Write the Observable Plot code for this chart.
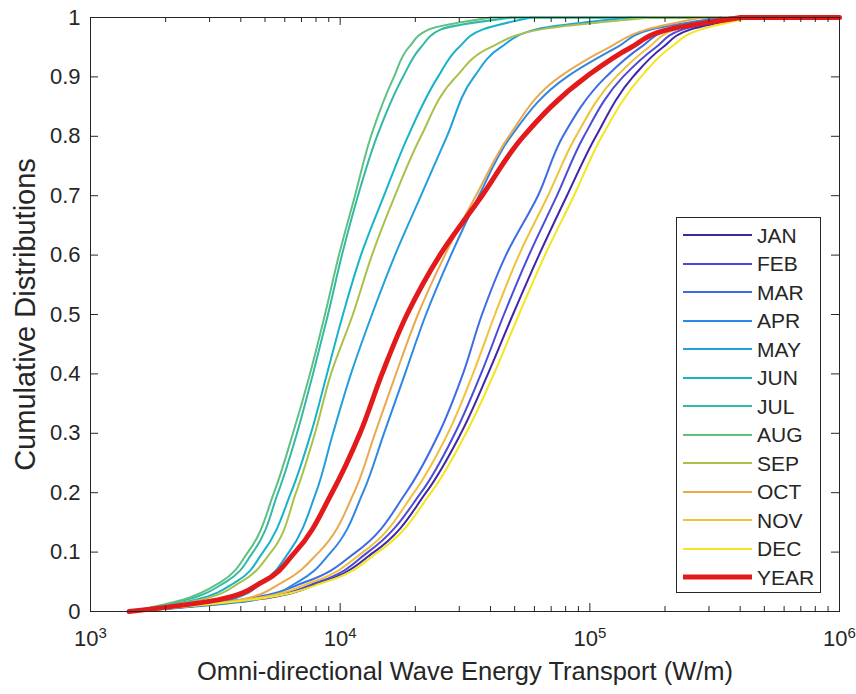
<!DOCTYPE html>
<html><head><meta charset="utf-8">
<script src="https://cdn.jsdelivr.net/npm/d3@7"></script>
<script src="https://cdn.jsdelivr.net/npm/@observablehq/plot@0.6"></script>
<style>
body{margin:0;background:#fff;}
#wrap{position:relative;width:856px;height:694px;font-family:"Liberation Sans",Arial,sans-serif;}
#legend{position:absolute;left:676px;top:217px;width:145px;height:376px;border:1px solid #262626;background:#fff;box-sizing:border-box;padding-top:3px}
.row{display:flex;align-items:center;height:28.5px}
.row svg{margin-left:6px;display:block}
.row span{margin-left:5px;font-size:21px;color:#262626;line-height:1}
</style></head><body>
<div id="wrap"><div id="legend"></div></div>
<script>
// cumulative probability levels
const P = [0, 0.02, 0.05, 0.1, 0.2, 0.3, 0.4, 0.5, 0.6, 0.7, 0.8, 0.9, 0.95, 0.98, 1];
// energy transport (W/m) at each level
const JAN = [1450, 4601, 8535, 13655, 22060, 30460, 39079, 49204, 62545, 80946, 105790, 148800, 196200, 254000, 421900];
const FEB = [1450, 4394, 8224, 12920, 21068, 28820, 36638, 45290, 57040, 73820, 94700, 135700, 184000, 236000, 402900];
const MAR = [1450, 4006, 7295, 11569, 18345, 24870, 31027, 36980, 46132, 61970, 78015, 116000, 160200, 211200, 367500];
const APR = [1450, 4601, 6776, 9187, 12340, 14980, 18180, 22060, 27778, 35964, 48306, 80946, 128700, 177000, 335000];
const MAY = [1450, 3653, 4908, 6237, 8000, 9360, 11046, 13410, 16580, 21070, 26770, 34350, 44060, 60840, 146100];
const JUN = [1450, 2646, 3825, 4908, 6353, 7638, 8855, 10261, 12115, 14980, 18690, 24650, 29910, 37320, 58100];
const JUL = [1450, 2434, 3488, 4475, 5637, 6714, 7781, 8937, 10167, 11785, 14041, 17846, 21068, 25328, 48306];
const AUG = [1450, 2345, 3332, 4274, 5433, 6471, 7568, 8693, 9890, 11463, 13284, 16420, 18850, 22680, 40173];
const SEP = [1450, 2770, 4006, 5284, 6653, 7926, 9187, 11240, 13410, 16580, 21070, 29090, 40170, 63710, 175700];
const OCT = [1450, 4006, 5906, 8224, 11360, 13790, 16730, 20490, 26270, 34983, 47400, 75700, 120000, 169500, 281000];
const NOV = [1450, 4195, 7781, 12340, 19747, 27020, 34029, 41680, 51999, 67960, 87995, 127200, 172500, 221200, 384800];
const DEC = [1450, 4475, 8773, 14170, 23100, 31900, 41297, 51999, 66112, 86390, 111800, 160200, 211200, 278600, 441800];
const YEAR = [1426, 3273, 4900, 6600, 9272, 12005, 14710, 18520, 25090, 36980, 54200, 96500, 146500, 207400, 402900];
const X_END = 1e6;

const MONTHS = ["JAN","FEB","MAR","APR","MAY","JUN","JUL","AUG","SEP","OCT","NOV","DEC"];
const SERIES = {JAN, FEB, MAR, APR, MAY, JUN, JUL, AUG, SEP, OCT, NOV, DEC};
const COLORS = ["#3e26a8","#4a4bd8","#3d6be6","#2e87e3","#22a0dc","#17b3c8","#33b9a5","#5fc181","#a9c14a","#eaa94f","#f1c13a","#f4e61e"];
const YEAR_COLOR = "#e31a1c";

const X_TICKS = [1e3, 1e4, 1e5, 1e6];
const X_MINOR = [2,3,4,5,6,7,8,9].flatMap(m => [1e3,1e4,1e5].map(d => m*d));
const Y_TICKS = d3.range(0, 11).map(i => i / 10);

const rows = MONTHS.flatMap(name => SERIES[name].map((x, i) => ({name, x, p: P[i]})));
const yearRows = YEAR.map((x, i) => ({name: "YEAR", x, p: P[i]}));
const tails = [...MONTHS.map(n => ({name: n, x: SERIES[n][SERIES[n].length-1]})), {name: "YEAR", x: YEAR[YEAR.length-1]}]
  .flatMap(d => [{name: d.name, x: d.x, p: 1}, {name: d.name, x: X_END, p: 1}]);

const W = 856, H = 694, ML = 90, MR = 17, MT = 17, MB = 83;
const FW = W - ML - MR, FH = H - MT - MB;
const ink = "#262626";

const chart = Plot.plot({
  width: W, height: H,
  marginLeft: ML, marginRight: MR, marginTop: MT, marginBottom: MB,
  style: {fontFamily: "'Liberation Sans', Arial, sans-serif", fontSize: "22px", color: ink, background: "#fff"},
  x: {type: "log", domain: [1e3, 1e6]},
  y: {domain: [0, 1]},
  color: {domain: MONTHS, range: COLORS},
  marks: [
    Plot.line(tails.filter(d => d.name !== "YEAR"), {x: "x", y: "p", z: "name", stroke: "name", strokeWidth: 2}),
    Plot.line(rows, {x: "x", y: "p", z: "name", stroke: "name", strokeWidth: 2, curve: "monotone-y"}),
    Plot.line(tails.filter(d => d.name === "YEAR"), {x: "x", y: "p", stroke: YEAR_COLOR, strokeWidth: 5}),
    Plot.line(yearRows, {x: "x", y: "p", stroke: YEAR_COLOR, strokeWidth: 5, curve: "monotone-y"}),
    Plot.frame({stroke: ink, strokeWidth: 1}),
    Plot.ruleX(X_MINOR, {x: d => d, stroke: ink, insetTop: FH - 5}),
    Plot.ruleX(X_MINOR, {x: d => d, stroke: ink, insetBottom: FH - 5}),
    Plot.ruleX(X_TICKS, {x: d => d, stroke: ink, insetTop: FH - 8}),
    Plot.ruleX(X_TICKS, {x: d => d, stroke: ink, insetBottom: FH - 8}),
    Plot.ruleY(Y_TICKS, {y: d => d, stroke: ink, insetRight: FW - 8}),
    Plot.ruleY(Y_TICKS, {y: d => d, stroke: ink, insetLeft: FW - 8}),
    Plot.axisX({ticks: X_TICKS, tickSize: 0, tickPadding: 19, tickFormat: d => "10^" + Math.round(Math.log10(d)), label: null}),
    Plot.axisY({ticks: Y_TICKS, tickSize: 0, tickPadding: 10, tickFormat: d => String(+d.toFixed(1)), label: null}),
    Plot.text(["Omni-directional Wave Energy Transport (W/m)"], {frameAnchor: "bottom", dy: 68, fontSize: 25.5, text: d => d, fill: ink}),
    Plot.text(["Cumulative Distributions"], {frameAnchor: "left", textAnchor: "middle", dx: -65, rotate: -90, fontSize: 29, text: d => d, fill: ink})
  ]
});

// superscript exponents on the x tick labels
d3.select(chart).selectAll('g[aria-label="x-axis tick label"] text').each(function() {
  const t = d3.select(this);
  const [base, exp] = t.text().split("^");
  t.text(null);
  t.append("tspan").text(base);
  t.append("tspan").attr("dy", "-0.55em").attr("font-size", "15px").text(exp);
});

const wrap = document.getElementById("wrap");
wrap.insertBefore(chart, wrap.firstChild);

// legend
const legend = d3.select("#legend");
[...MONTHS.map((m, i) => ({name: m, color: COLORS[i], w: 2})), {name: "YEAR", color: YEAR_COLOR, w: 5}].forEach(d => {
  const row = legend.append("div").attr("class", "row");
  const s = row.append("svg").attr("width", 69).attr("height", 10);
  s.append("line").attr("x1", 0).attr("x2", 69).attr("y1", 5).attr("y2", 5).attr("stroke", d.color).attr("stroke-width", d.w);
  row.append("span").text(d.name);
});
</script>
</body></html>
